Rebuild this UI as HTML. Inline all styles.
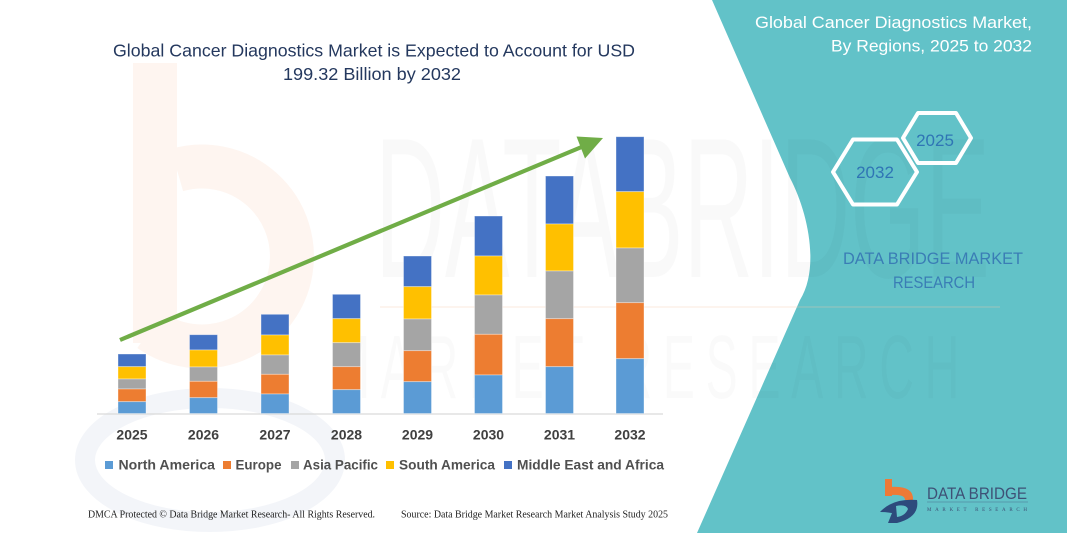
<!DOCTYPE html>
<html>
<head>
<meta charset="utf-8">
<style>
  html,body{margin:0;padding:0;background:#fff;}
  body{width:1067px;height:533px;overflow:hidden;}
  svg{display:block;overflow:hidden;}
</style>
</head>
<body>
<svg width="1067" height="533" viewBox="0 0 1067 533" xmlns="http://www.w3.org/2000/svg">
  <defs>
    <clipPath id="frame"><rect x="0" y="0" width="1067" height="533"/></clipPath>
  </defs>
  <g clip-path="url(#frame)">
  <rect x="0" y="0" width="1067" height="533" fill="#ffffff"/>

  <!-- faint watermark logo (left) -->
  <rect x="133" y="63" width="44" height="280" fill="#fef5f0"/>
  <path d="M177,170 A90,90 0 1 1 150,330" fill="none" stroke="#fef5f0" stroke-width="44"/>
  <ellipse cx="210" cy="460" rx="125" ry="62" fill="none" stroke="#f3f5f9" stroke-width="20"/>

  <!-- teal panel -->
  <path d="M712,0 L790,178 C808,212 820,268 800,300 L697,533 L1067,533 L1067,0 Z" fill="#62c2c8"/>

  <!-- big watermark text -->
  <text x="375" y="277" font-family="Liberation Sans, sans-serif" font-size="200" fill="#000" fill-opacity="0.022" textLength="615" lengthAdjust="spacingAndGlyphs">DATABRIDGE</text>
  <line x1="380" y1="307" x2="1000" y2="307" stroke="#f5c9a8" stroke-opacity="0.2" stroke-width="2"/>
  <text x="330" y="398" font-family="Liberation Sans, sans-serif" font-size="90" fill="#000" fill-opacity="0.018" textLength="640" lengthAdjust="spacingAndGlyphs" letter-spacing="20">MARKET RESEARCH</text>

  <!-- chart title -->
  <text x="113" y="56.5" font-family="Liberation Sans, sans-serif" font-size="17.5" fill="#24385e" textLength="522" lengthAdjust="spacingAndGlyphs">Global Cancer Diagnostics Market is Expected to Account for USD</text>
  <text x="283" y="80" font-family="Liberation Sans, sans-serif" font-size="17.5" fill="#24385e" textLength="178" lengthAdjust="spacingAndGlyphs">199.32 Billion by 2032</text>

  <!-- axis -->
  <line x1="97" y1="414" x2="663" y2="414" stroke="#d9d9d9" stroke-width="1.2"/>

  <!-- bars -->
  <g stroke="#ffffff" stroke-width="0.8" stroke-opacity="0.45">
    <rect x="118" y="354" width="28" height="12.7" fill="#4472c4"/>
    <rect x="118" y="366.7" width="28" height="12.3" fill="#ffc000"/>
    <rect x="118" y="379" width="28" height="10" fill="#a5a5a5"/>
    <rect x="118" y="389" width="28" height="12.7" fill="#ed7d31"/>
    <rect x="118" y="401.7" width="28" height="11.8" fill="#5b9bd5"/>

    <rect x="189.5" y="334.7" width="28" height="15.3" fill="#4472c4"/>
    <rect x="189.5" y="350" width="28" height="17" fill="#ffc000"/>
    <rect x="189.5" y="367" width="28" height="14.3" fill="#a5a5a5"/>
    <rect x="189.5" y="381.3" width="28" height="16.4" fill="#ed7d31"/>
    <rect x="189.5" y="397.7" width="28" height="15.8" fill="#5b9bd5"/>

    <rect x="261" y="314.3" width="28" height="20.7" fill="#4472c4"/>
    <rect x="261" y="335" width="28" height="20" fill="#ffc000"/>
    <rect x="261" y="355" width="28" height="19.3" fill="#a5a5a5"/>
    <rect x="261" y="374.3" width="28" height="19.7" fill="#ed7d31"/>
    <rect x="261" y="394" width="28" height="19.5" fill="#5b9bd5"/>

    <rect x="332.5" y="294.3" width="28" height="24.4" fill="#4472c4"/>
    <rect x="332.5" y="318.7" width="28" height="24" fill="#ffc000"/>
    <rect x="332.5" y="342.7" width="28" height="24" fill="#a5a5a5"/>
    <rect x="332.5" y="366.7" width="28" height="23" fill="#ed7d31"/>
    <rect x="332.5" y="389.7" width="28" height="23.8" fill="#5b9bd5"/>

    <rect x="403.5" y="256" width="28" height="30.7" fill="#4472c4"/>
    <rect x="403.5" y="286.7" width="28" height="32.3" fill="#ffc000"/>
    <rect x="403.5" y="319" width="28" height="31.7" fill="#a5a5a5"/>
    <rect x="403.5" y="350.7" width="28" height="31" fill="#ed7d31"/>
    <rect x="403.5" y="381.7" width="28" height="31.8" fill="#5b9bd5"/>

    <rect x="474.5" y="216" width="28" height="40" fill="#4472c4"/>
    <rect x="474.5" y="256" width="28" height="39" fill="#ffc000"/>
    <rect x="474.5" y="295" width="28" height="39.3" fill="#a5a5a5"/>
    <rect x="474.5" y="334.3" width="28" height="40.7" fill="#ed7d31"/>
    <rect x="474.5" y="375" width="28" height="38.5" fill="#5b9bd5"/>

    <rect x="545.5" y="176" width="28" height="48" fill="#4472c4"/>
    <rect x="545.5" y="224" width="28" height="47" fill="#ffc000"/>
    <rect x="545.5" y="271" width="28" height="47.7" fill="#a5a5a5"/>
    <rect x="545.5" y="318.7" width="28" height="48" fill="#ed7d31"/>
    <rect x="545.5" y="366.7" width="28" height="46.8" fill="#5b9bd5"/>

    <rect x="616" y="136.7" width="28" height="55" fill="#4472c4"/>
    <rect x="616" y="191.7" width="28" height="56.3" fill="#ffc000"/>
    <rect x="616" y="248" width="28" height="54.7" fill="#a5a5a5"/>
    <rect x="616" y="302.7" width="28" height="56" fill="#ed7d31"/>
    <rect x="616" y="358.7" width="28" height="54.8" fill="#5b9bd5"/>
  </g>

  <!-- green arrow -->
  <line x1="120" y1="340" x2="584" y2="146" stroke="#70ad47" stroke-width="4.2"/>
  <polygon points="603,138 576.5,136.5 585,158.5" fill="#70ad47"/>

  <!-- year labels -->
  <g font-family="Liberation Sans, sans-serif" font-size="14" font-weight="bold" fill="#404040" text-anchor="middle">
    <text x="132" y="439.5">2025</text>
    <text x="203.5" y="439.5">2026</text>
    <text x="275" y="439.5">2027</text>
    <text x="346.5" y="439.5">2028</text>
    <text x="417.5" y="439.5">2029</text>
    <text x="488.5" y="439.5">2030</text>
    <text x="559.5" y="439.5">2031</text>
    <text x="630" y="439.5">2032</text>
  </g>

  <!-- legend -->
  <rect x="105" y="461" width="8" height="8" fill="#5b9bd5"/>
  <rect x="223" y="461" width="8" height="8" fill="#ed7d31"/>
  <rect x="291" y="461" width="8" height="8" fill="#a5a5a5"/>
  <rect x="386" y="461" width="8" height="8" fill="#ffc000"/>
  <rect x="504" y="461" width="8" height="8" fill="#4472c4"/>
  <g font-family="Liberation Sans, sans-serif" font-size="14" font-weight="bold" fill="#505050">
    <text x="118.5" y="469.5" textLength="96.5" lengthAdjust="spacingAndGlyphs">North America</text>
    <text x="235.5" y="469.5" textLength="46" lengthAdjust="spacingAndGlyphs">Europe</text>
    <text x="303" y="469.5" textLength="75" lengthAdjust="spacingAndGlyphs">Asia Pacific</text>
    <text x="399" y="469.5" textLength="96" lengthAdjust="spacingAndGlyphs">South America</text>
    <text x="517" y="469.5" textLength="147" lengthAdjust="spacingAndGlyphs">Middle East and Africa</text>
  </g>

  <!-- footer -->
  <g font-family="Liberation Serif, serif" font-size="10" fill="#222">
    <text x="88" y="517.5" textLength="287" lengthAdjust="spacingAndGlyphs">DMCA Protected © Data Bridge Market Research- All Rights Reserved.</text>
    <text x="401" y="517.5" textLength="267" lengthAdjust="spacingAndGlyphs">Source: Data Bridge Market Research  Market  Analysis Study 2025</text>
  </g>

  <!-- panel title -->
  <g font-family="Liberation Sans, sans-serif" font-size="17" fill="#ffffff" text-anchor="end">
    <text x="1032" y="28" textLength="277" lengthAdjust="spacingAndGlyphs">Global Cancer Diagnostics Market,</text>
    <text x="1032" y="51.5" textLength="201" lengthAdjust="spacingAndGlyphs">By Regions, 2025 to 2032</text>
  </g>

  <!-- hexagons -->
  <polygon points="833,172 853,139.5 897,139.5 917,172 897,204.5 853,204.5" fill="none" stroke="#ffffff" stroke-width="4" stroke-linejoin="round"/>
  <polygon points="903,138 918,113 956,113 971,138 956,163 918,163" fill="none" stroke="#ffffff" stroke-width="4" stroke-linejoin="round"/>
  <g font-family="Liberation Sans, sans-serif" font-size="17" fill="#2f75b5" text-anchor="middle">
    <text x="875" y="178">2032</text>
    <text x="935" y="146">2025</text>
  </g>

  <!-- DATA BRIDGE MARKET RESEARCH -->
  <g font-family="Liberation Sans, sans-serif" font-size="17" fill="#3a7db5">
    <text x="843" y="264" textLength="180" lengthAdjust="spacingAndGlyphs">DATA BRIDGE MARKET</text>
    <text x="893" y="288" textLength="82" lengthAdjust="spacingAndGlyphs">RESEARCH</text>
  </g>

  <!-- bottom-right logo -->
  <rect x="885" y="479" width="7" height="17" fill="#ee7a37"/>
  <path d="M889,487 Q914,485 913,500 L905,500 Q905,494 891,495 Z" fill="#ee7a37"/>
  <path d="M880,512 Q893,498 917,500 Q920,517 897,523 L888,523 L892,513 Q886,512 880,512 Z" fill="#2d4a7c"/>
  <path d="M896,506 Q906,504 908,509 Q905,516 897,517 Z" fill="#62c2c8"/>
  <text x="927" y="499" font-family="Liberation Sans, sans-serif" font-size="16.5" fill="#3e5176" textLength="100" lengthAdjust="spacingAndGlyphs">DATA BRIDGE</text>
  <line x1="927" y1="502" x2="1028" y2="502" stroke="#4a6a8a" stroke-opacity="0.6" stroke-width="0.8"/>
  <text x="927" y="511" font-family="Liberation Serif, serif" font-size="5" fill="#3e5176" textLength="100" lengthAdjust="spacing">MARKET   RESEARCH</text>
  </g>
</svg>
</body>
</html>
